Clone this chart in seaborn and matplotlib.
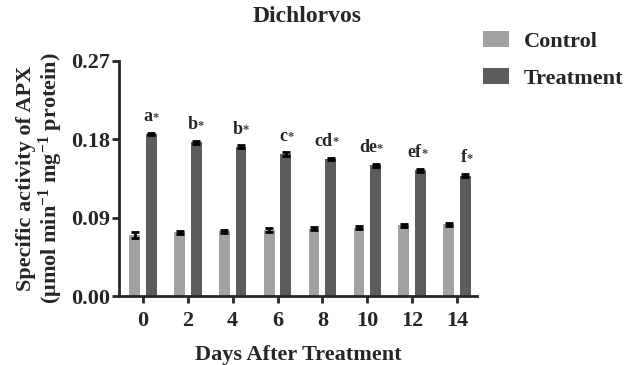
import matplotlib
matplotlib.use("Agg")
import matplotlib.pyplot as plt
import seaborn as sns
import pandas as pd

days = ["0", "2", "4", "6", "8", "10", "12", "14"]
control = [0.070, 0.073, 0.0745, 0.0758, 0.0775, 0.0785, 0.081, 0.0822]
treatment = [0.1858, 0.1766, 0.1716, 0.1632, 0.1575, 0.1502, 0.1442, 0.1383]
control_err = [0.003, 0.002, 0.0018, 0.0018, 0.0022, 0.0018, 0.0015, 0.0015]
treatment_err = [0.0012, 0.0015, 0.0013, 0.0018, 0.0015, 0.0018, 0.0015, 0.0015]
letters = ["a", "b", "b", "c", "cd", "de", "ef", "f"]
yticks = [0.00, 0.09, 0.18, 0.27]

sns.set_style("ticks")
plt.rcParams["font.family"] = ["Liberation Serif", "DejaVu Serif"]
plt.rcParams["font.weight"] = "bold"
plt.rcParams["mathtext.fontset"] = "custom"
plt.rcParams["mathtext.rm"] = "Liberation Serif:bold"
plt.rcParams["mathtext.bf"] = "Liberation Serif:bold"
plt.rcParams["mathtext.it"] = "Liberation Serif:bold"

df = pd.DataFrame({
    "Day": days * 2,
    "Value": control + treatment,
    "Group": ["Control"] * len(days) + ["Treatment"] * len(days),
})

fig = plt.figure(figsize=(6.38, 3.65), dpi=100)
ax = fig.add_axes([0.1865, 0.189, 0.561, 0.644])

palette = {"Control": "#a2a2a2", "Treatment": "#5c5c5c"}
sns.barplot(data=df, x="Day", y="Value", hue="Group", order=days,
            hue_order=["Control", "Treatment"], palette=palette,
            width=0.74, gap=0.35, errorbar=None, ax=ax, saturation=1,
            edgecolor="none", legend=True)

bars = [p for p in ax.patches if p.get_height() > 0 and p.get_width() < 1]
ctrl_bars = bars[:len(days)]
trt_bars = bars[len(days):2 * len(days)]
for b, e in zip(ctrl_bars, control_err):
    ax.errorbar(b.get_x() + b.get_width() / 2, b.get_height(), yerr=e,
                fmt="none", ecolor="black", elinewidth=2, capsize=3, capthick=2)
for b, e, lab in zip(trt_bars, treatment_err, letters):
    cx = b.get_x() + b.get_width() / 2
    ax.errorbar(cx, b.get_height(), yerr=e,
                fmt="none", ecolor="black", elinewidth=2, capsize=3, capthick=2)
    ytxt = b.get_height() + e + 0.009
    ax.text(cx + 0.03, ytxt, lab, ha="right", va="bottom", fontsize=13,
            fontweight="bold")
    ax.text(cx + 0.03, ytxt + 0.0015, "*", ha="left", va="bottom", fontsize=9,
            fontweight="bold", color="#444444")

ax.set_ylim(0, 0.27)
ax.set_xlim(-0.535, 7.445)
ax.set_yticks(yticks)
ax.set_yticklabels([f"{v:.2f}" for v in yticks])
ax.tick_params(axis="both", width=2, length=5, labelsize=16, direction="out")
ax.tick_params(axis="x", pad=6)
ax.tick_params(axis="y", pad=1.5)
for lab in ax.get_xticklabels() + ax.get_yticklabels():
    lab.set_fontweight("bold")
for s in ["left", "bottom"]:
    ax.spines[s].set_linewidth(2)
sns.despine(ax=ax)

ax.set_xlabel("Days After Treatment", fontsize=16, fontweight="bold", labelpad=10)
ax.set_ylabel("Specific activity of APX\n(μmol min$^{-1}$ mg$^{-1}$ protein)",
              fontsize=16, fontweight="bold", labelpad=4, linespacing=1.05)
ax.set_title("Dichlorvos", fontsize=17, fontweight="bold", pad=28, x=0.525)

ax.legend_.remove()
handles, labels = ax.get_legend_handles_labels()
leg = fig.legend(handles, labels, loc="upper left",
                 bbox_to_anchor=(483 / 638, 1 - 31 / 365),
                 bbox_transform=fig.transFigure, frameon=False,
                 fontsize=16, handlelength=1.15, handleheight=0.7,
                 handletextpad=0.7, labelspacing=0.75, borderpad=0,
                 borderaxespad=0)
for t in leg.get_texts():
    t.set_fontweight("bold")

fig.savefig("out.png", dpi=100)
